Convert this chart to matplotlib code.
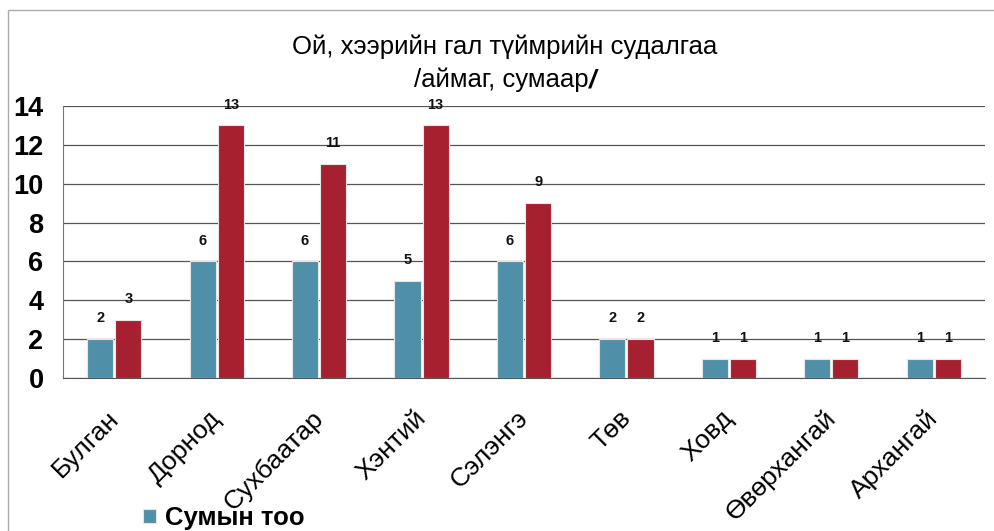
import matplotlib
matplotlib.use("Agg")
import matplotlib.pyplot as plt
from matplotlib.patches import Rectangle
import matplotlib.transforms as mtransforms
import numpy as np

categories = ["Булган", "Дорнод", "Сухбаатар", "Хэнтий", "Сэлэнгэ", "Төв", "Ховд", "Өвөрхангай", "Архангай"]
sum_count = [2, 6, 6, 5, 6, 2, 1, 1, 1]
second_series = [3, 13, 11, 13, 9, 2, 1, 1, 1]
yticks = [0, 2, 4, 6, 8, 10, 12, 14]

plt.rcParams['font.family'] = ['Liberation Sans', 'DejaVu Sans']

fig = plt.figure(figsize=(9.95, 5.31), dpi=100)
fig.patch.set_facecolor('white')
ax = fig.add_axes([63/995, 1-378/531, (985-63)/995, (378-106)/531])

x = np.arange(len(categories))
w = 0.255
gap = 0.01
blue = '#4f90a8'
red = '#a6202f'
b1 = ax.bar(x - w/2 - gap, sum_count, w, color=blue, edgecolor='#e6e6e6', linewidth=0.8, label='Сумын тоо', zorder=3)
b2 = ax.bar(x + w/2 + gap, second_series, w, color=red, edgecolor='#e6e6e6', linewidth=0.8, zorder=3)
for bc in (b1, b2):
    ax.bar_label(bc, padding=10, fontsize=10.5, fontweight='bold', color='#111111')

ax.set_xlim(-0.5, len(categories) - 0.5)
ax.set_ylim(0, 14)
ax.set_yticks(yticks)
ax.set_yticklabels([str(t) for t in yticks], fontsize=19.5, fontweight='bold')
ax.tick_params(axis='y', length=0, pad=14)
ax.set_xticks(x)
ax.set_xticklabels(categories, rotation=45, ha='right', rotation_mode='anchor', fontsize=19)
ax.tick_params(axis='x', length=0, pad=20)
offset = mtransforms.ScaledTranslation(-8/100, 0, fig.dpi_scale_trans)
for lbl in ax.get_xticklabels():
    lbl.set_transform(lbl.get_transform() + offset)
ax.yaxis.grid(True, color='#555555', linewidth=0.9, zorder=0)
ax.set_axisbelow(True)
for s in ['top', 'right']:
    ax.spines[s].set_visible(False)
ax.spines['left'].set_color('#777777')
ax.spines['bottom'].set_color('#555555')

fig.text(505/995, 1-47/531, "Ой, хээрийн гал түймрийн судалгаа", ha='center', va='center', fontsize=18.5)
fig.text(589/995, 1-80/531, "/аймаг, сумаар", ha='right', va='center', fontsize=18.5)
fig.text(589/995, 1-80/531, "/", ha='left', va='center', fontsize=19, fontweight='bold', fontstyle='italic')

fig.legend(handles=[b1], labels=['Сумын тоо'], loc='center left', bbox_to_anchor=(133/995, 1-518/531),
           frameon=False, prop={'size': 18.5, 'weight': 'bold'}, handlelength=0.5, handleheight=0.5,
           handletextpad=0.35, borderaxespad=0)

fig.add_artist(Rectangle((8/995, -0.05), 1.2, 1-10/531+0.05, transform=fig.transFigure,
                         fill=False, edgecolor='#aaaaaa', linewidth=1))

fig.savefig('out.png', dpi=100)
